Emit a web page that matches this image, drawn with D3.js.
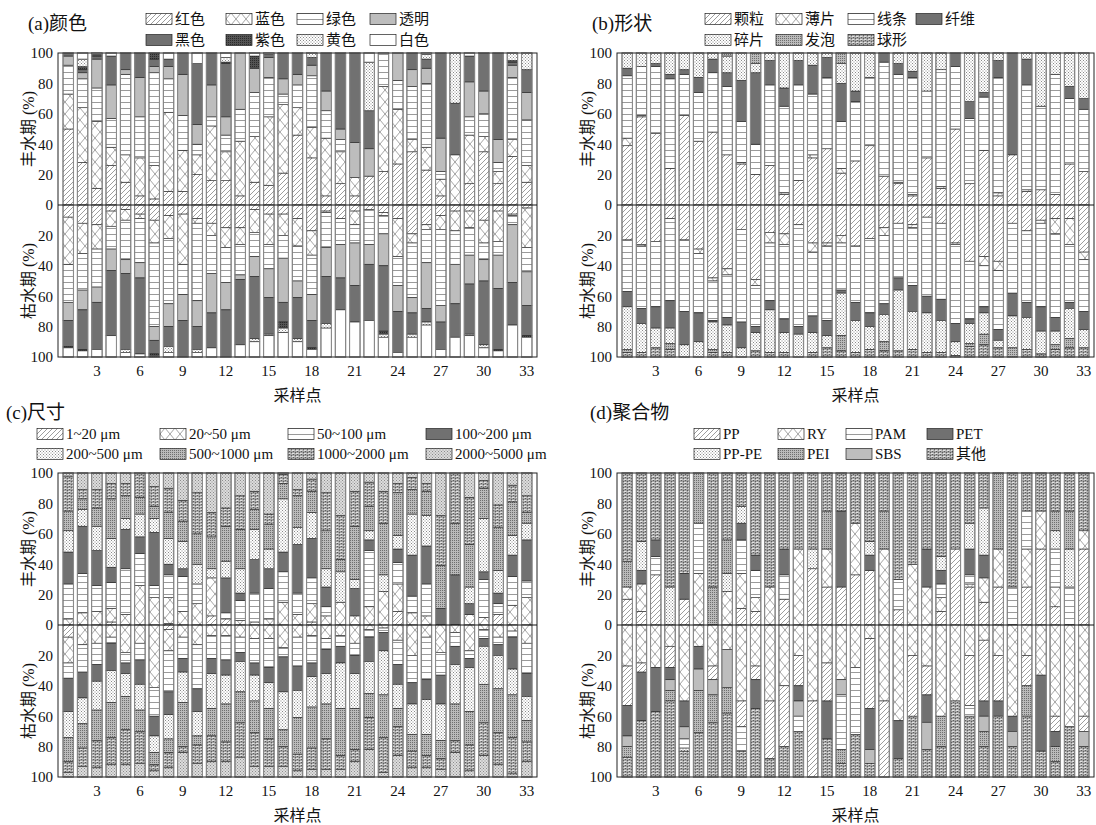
<!DOCTYPE html>
<html>
<head>
<meta charset="utf-8">
<script src="https://cdn.jsdelivr.net/npm/d3@7"></script>
<style>
body { margin: 0; background: #fff; }
text { font-family: "Liberation Serif", "Times New Roman", "Noto Sans CJK SC", serif; fill: #111; }
</style>
</head>
<body>
<script>
var sites = d3.range(1, 34);
var xTicks = [3, 6, 9, 12, 15, 18, 21, 24, 27, 30, 33];

// (a) colour: 红色 蓝色 绿色 透明 黑色 紫色 黄色 白色
var colorKeys = ["红色", "蓝色", "绿色", "透明", "黑色", "紫色", "黄色", "白色"];
var colorWet = [
  [50,23,19,6,2,0,0,0],[28,36,19,4,2,2,5,4],[11,44,22,19,2,1,0,1],[26,12,19,22,19,0,0,2],
  [15,18,53,3,11,0,0,0],[6,25,27,26,16,0,0,0],[4,22,61,4,5,4,0,0],[9,52,22,8,5,0,0,4],
  [9,27,23,27,14,0,0,0],[20,13,7,13,40,0,0,7],[16,36,6,21,21,0,0,0],[16,19,11,12,35,1,3,3],
  [6,36,21,37,0,0,0,0],[15,30,29,16,0,8,0,2],[13,45,26,13,2,0,0,1],[21,45,7,10,17,0,0,0],
  [46,18,15,7,14,0,0,0],[31,20,34,7,5,0,3,0],[6,38,18,13,25,0,0,0],[14,21,8,7,50,0,0,0],
  [6,12,0,23,59,0,0,0],[19,0,0,18,25,0,32,6],[22,56,22,0,0,0,0,0],[27,36,19,18,0,0,0,0],
  [35,8,35,11,11,0,0,0],[23,15,42,10,6,0,3,1],[6,11,5,22,56,0,0,0],[0,33,0,0,34,0,33,0],
  [14,32,12,23,17,0,0,2],[35,10,15,15,25,0,0,0],[14,8,6,15,57,0,0,0],[32,11,41,8,2,1,5,0],
  [15,11,30,18,15,0,11,0]
];
var colorDry = [
  [8,31,25,12,17,1,0,6],[12,20,24,13,26,1,0,4],[13,16,25,10,31,0,0,5],[4,10,15,14,43,0,0,14],
  [3,7,26,9,50,0,2,3],[6,3,29,10,50,0,0,2],[10,15,55,9,9,2,0,0],[7,15,43,15,13,0,4,3],
  [6,33,20,17,24,0,0,0],[9,3,51,17,15,0,2,3],[12,8,25,26,23,0,0,6],[15,13,23,18,31,0,0,0],
  [15,11,20,3,43,0,0,8],[3,15,16,13,41,0,2,10],[6,20,16,19,24,0,1,14],[6,14,15,29,13,4,3,16],
  [9,18,23,11,27,0,2,10],[17,16,26,17,18,1,0,5],[4,1,23,19,31,0,3,19],[9,0,17,22,21,0,0,31],
  [4,9,12,28,24,0,0,23],[3,0,23,13,37,0,0,24],[5,2,12,21,43,2,2,13],[9,25,19,17,27,0,0,3],
  [19,6,36,10,14,0,2,13],[13,3,22,30,9,0,2,21],[7,9,50,11,18,0,0,5],[4,13,22,26,22,0,0,13],
  [4,11,18,19,33,0,1,14],[10,15,11,14,42,0,2,6],[4,20,9,22,40,1,0,4],[6,1,6,38,28,0,0,21],
  [2,26,16,22,20,1,0,13]
];

// (b) shape: 颗粒 薄片 线条 纤维 碎片 发泡 球形
var shapeKeys = ["颗粒", "薄片", "线条", "纤维", "碎片", "发泡", "球形"];
var shapeWet = [
  [39,5,41,5,10,0,0],[58,1,32,0,9,0,0],[47,0,44,2,7,0,0],[24,0,59,3,14,0,0],
  [59,0,27,3,11,0,0],[42,0,32,10,16,0,0],[48,0,39,9,4,0,0],[33,0,45,9,11,2,0],
  [27,1,27,27,18,0,0],[20,0,20,47,6,7,0],[26,0,53,16,5,0,0],[7,1,57,12,23,0,0],
  [16,0,63,16,5,0,0],[31,2,40,19,8,0,0],[37,0,47,13,3,0,0],[21,3,31,25,13,7,0],
  [29,0,39,7,25,0,0],[39,0,45,0,16,0,0],[19,0,75,6,0,0,0],[14,1,71,7,7,0,0],
  [6,1,77,4,12,0,0],[31,0,44,0,25,0,0],[11,1,77,0,11,0,0],[50,0,41,9,0,0,0],
  [14,0,43,11,32,0,0],[36,0,35,3,26,0,0],[6,2,76,11,5,0,0],[33,0,0,67,0,0,0],
  [9,1,69,17,4,0,0],[10,0,55,0,35,0,0],[7,0,79,0,14,0,0],[27,0,43,8,22,0,0],
  [22,0,41,7,30,0,0]
];
var shapeDry = [
  [23,0,34,10,28,2,3],[26,1,41,10,19,0,3],[24,0,43,14,13,0,6],[9,0,54,18,10,4,5],
  [23,0,47,22,8,0,0],[29,3,39,19,10,0,0],[48,2,26,1,18,2,3],[42,4,28,5,18,0,3],
  [16,0,61,17,6,0,0],[49,4,27,4,12,0,4],[18,7,38,6,28,0,3],[19,7,49,9,13,0,3],
  [13,0,67,5,15,0,0],[25,6,42,11,13,0,3],[25,2,49,10,8,0,6],[20,5,31,2,28,10,4],
  [27,0,37,12,21,0,3],[22,0,49,9,15,0,5],[15,5,45,7,18,6,4],[12,0,36,8,40,0,4],
  [13,2,38,17,25,0,5],[8,0,52,11,26,0,3],[12,0,50,14,21,0,3],[25,1,52,12,9,0,1],
  [37,0,38,3,13,2,7],[34,6,27,4,14,7,8],[37,6,39,7,5,0,6],[12,0,46,15,21,6,0],
  [17,0,47,10,21,0,5],[10,2,55,16,15,0,2],[9,10,55,9,9,3,5],[9,17,38,4,20,6,6],
  [31,5,34,12,12,0,6]
];

// (c) size
var sizeKeys = ["1~20 μm", "20~50 μm", "50~100 μm", "100~200 μm",
                "200~500 μm", "500~1000 μm", "1000~2000 μm", "2000~5000 μm"];
var sizeWet = [
  [0,4,23,21,14,13,23,2],[0,8,26,31,11,7,6,11],[0,9,17,23,16,12,12,11],[2,9,17,10,19,26,10,7],
  [0,7,30,26,7,15,8,7],[0,26,21,11,15,11,16,0],[0,18,8,35,9,8,13,9],[1,17,15,7,17,17,16,10],
  [0,9,23,5,18,13,14,18],[0,14,13,0,13,20,27,13],[6,25,0,0,6,21,16,26],[4,0,4,23,11,23,12,23],
  [0,3,13,5,16,26,22,15],[0,2,19,22,20,13,12,12],[0,4,20,13,13,16,7,27],[0,15,20,13,35,10,6,1],
  [0,7,14,32,11,21,4,11],[2,12,17,26,17,14,8,4],[0,6,6,13,12,25,25,13],[0,15,0,0,20,8,29,28],
  [0,6,0,18,6,35,23,12],[0,12,37,7,6,16,16,6],[0,22,0,0,11,34,21,12],[9,18,14,9,9,28,6,7],
  [0,8,11,27,27,16,8,3],[0,6,21,25,20,16,5,7],[0,0,0,11,0,28,33,28],[0,0,0,33,0,34,33,0],
  [0,7,0,7,11,28,31,16],[0,5,25,5,35,20,5,5],[7,0,7,7,15,28,15,21],[0,13,19,14,13,22,11,8],
  [0,18,11,27,11,7,11,15]
];
var sizeDry = [
  [8,17,10,22,17,16,7,3],[0,13,18,17,17,16,12,7],[0,12,14,11,19,20,18,6],[0,8,4,18,21,23,18,8],
  [0,18,7,7,15,22,23,8],[0,12,11,16,17,14,21,9],[0,41,19,13,11,8,4,4],[3,14,27,15,16,9,10,6],
  [0,8,14,9,20,29,4,16],[0,13,29,15,16,6,12,9],[0,7,15,10,23,18,17,10],[0,7,16,10,19,25,13,10],
  [0,8,10,6,20,20,23,13],[0,9,16,8,17,21,22,7],[0,9,19,10,17,20,18,7],[0,15,6,23,25,11,13,7],
  [0,8,19,16,18,24,11,4],[0,7,18,9,20,27,14,5],[0,9,7,16,20,23,20,5],[0,7,7,11,30,31,9,5],
  [0,12,8,12,23,27,8,10],[0,3,5,16,21,16,21,18],[0,2,3,12,29,28,23,3],[0,10,16,13,16,12,19,14],
  [0,20,18,14,20,11,11,6],[0,8,28,13,23,14,8,6],[0,18,15,19,24,12,7,5],[0,5,9,12,26,24,8,16],
  [0,17,5,6,29,22,17,4],[0,3,6,5,25,25,22,14],[0,8,5,7,22,29,21,8],[0,4,4,21,17,28,24,2],
  [0,12,20,15,16,14,13,10]
];

// (d) polymer: PP RY PAM PET PP-PE PEI SBS 其他
var polyKeys = ["PP", "RY", "PAM", "PET", "PP-PE", "PEI", "SBS", "其他"];
var polyWet = [
  [17,8,0,0,0,17,0,58],[9,18,0,9,19,0,0,45],[33,0,12,11,0,0,0,44],[0,0,0,0,25,0,0,75],
  [17,0,0,17,0,0,0,66],[0,34,33,0,0,33,0,0],[0,0,0,0,0,25,0,75],[0,22,0,0,12,22,0,44],
  [11,23,22,11,11,0,0,22],[9,9,18,10,0,0,0,54],[0,25,0,0,0,0,0,75],[17,0,16,17,0,0,0,50],
  [0,50,0,0,0,0,0,50],[37,0,0,0,13,0,0,50],[25,25,0,0,0,25,0,25],[25,0,0,50,0,0,0,25],
  [33,34,0,0,0,0,0,33],[36,0,0,10,9,0,0,45],[0,50,0,0,0,25,0,25],[10,0,20,0,0,0,0,70],
  [0,40,0,0,0,0,0,60],[0,25,0,25,0,0,0,50],[9,9,9,9,9,0,0,55],[50,0,0,0,0,0,0,50],
  [25,2,6,17,17,0,0,33],[15,16,0,15,31,0,0,23],[25,25,0,0,0,50,0,0],[0,0,25,0,0,0,0,75],
  [25,25,25,0,0,0,0,25],[50,25,0,0,0,0,0,25],[12,13,25,0,12,13,0,25],[0,0,25,0,25,25,0,25],
  [50,12,0,0,0,0,0,38]
];
var polyDry = [
  [26,27,0,20,0,7,7,13],[6,25,0,32,0,0,0,37],[0,28,0,29,0,0,0,43],[14,14,0,8,0,7,7,50],
  [0,50,6,17,2,0,8,17],[0,14,0,15,0,28,14,29],[9,27,0,0,0,18,10,36],[0,16,0,0,0,17,25,42],
  [17,50,16,0,0,0,0,17],[9,27,0,19,0,0,0,45],[38,50,0,0,0,0,0,12],[40,40,0,0,0,0,0,20],
  [20,20,10,10,0,0,10,30],[50,50,0,0,0,0,0,0],[25,25,0,25,0,0,0,25],[0,36,36,0,0,9,10,9],
  [0,28,44,0,0,0,0,28],[46,9,0,27,0,0,9,9],[50,50,0,0,0,0,0,0],[0,63,0,25,0,0,0,12],
  [40,20,0,0,0,0,0,40],[19,27,0,18,0,0,18,18],[0,60,0,0,0,20,0,20],[0,50,0,0,0,0,0,50],
  [33,20,7,0,0,0,0,40],[40,10,0,10,0,10,10,20],[30,20,0,10,0,0,0,40],[0,60,0,10,0,0,10,20],
  [20,20,0,0,0,20,0,40],[0,33,0,50,0,0,0,17],[10,60,0,10,0,10,0,10],[0,67,0,0,0,0,0,33],
  [10,60,0,0,0,0,10,20]
];
// stacking order seen in the dry half of (d)
var polyDryOrder = [1, 0, 3, 6, 2, 4, 5, 7];

var w = 1096, h = 825;
var svg = d3.select("body").append("svg").attr("width", w).attr("height", h);
var defs = svg.append("defs");

function pattern(id, pw, ph, bg) {
  var p = defs.append("pattern").attr("id", id)
    .attr("patternUnits", "userSpaceOnUse")
    .attr("width", pw).attr("height", ph);
  p.append("rect").attr("width", pw).attr("height", ph).attr("fill", bg);
  return p;
}
function dots(p, pts, size, col) {
  pts.forEach(function(q) {
    p.append("rect").attr("x", q[0]).attr("y", q[1]).attr("width", size).attr("height", size).attr("fill", col);
  });
}

pattern("hatch", 5, 5, "#fff").append("path")
  .attr("d", "M0,5L5,0M-1.25,1.25L1.25,-1.25M3.75,6.25L6.25,3.75")
  .attr("stroke", "#5a5a5a").attr("stroke-width", 0.6);
pattern("cross", 10, 12, "#fff").append("path")
  .attr("d", "M0,0L10,12M10,0L0,12")
  .attr("stroke", "#666").attr("stroke-width", 0.6);
pattern("lines", 8, 6, "#fff").append("path")
  .attr("d", "M0,0.5H8").attr("stroke", "#808080").attr("stroke-width", 0.8);
pattern("dark", 4, 4, "#717171");
var pu = pattern("purple", 2, 2, "#545454"); dots(pu, [[0, 0]], 1, "#2c2c2c");
var dt = pattern("dots", 3, 3, "#fff"); dots(dt, [[0, 0], [1.5, 1.5]], 1, "#8a8a8a");
var md = pattern("meddots", 2, 2, "#bababa"); dots(md, [[0, 0]], 1, "#6e6e6e");
var de = pattern("dense", 4, 3, "#a2a2a2");
de.append("rect").attr("x", 0).attr("y", 2).attr("width", 2.5).attr("height", 1).attr("fill", "#e2e2e2");
dots(de, [[1, 0], [3, 1]], 1, "#5e5e5e");
var fd = pattern("finedots", 3, 3, "#dcdcdc"); dots(fd, [[0, 0], [1.5, 1.5]], 1, "#8c8c8c");
pattern("lightgray", 4, 4, "#bdbdbd");
pattern("white", 4, 4, "#ffffff");

var panels = [
  { title: "(a)颜色", tx: 28, ty: 23, keys: colorKeys, wet: colorWet, dry: colorDry,
    pats: ["hatch", "cross", "lines", "lightgray", "dark", "purple", "dots", "white"],
    x0: 58, x1: 537, y0: 53, legX: [146, 226, 297, 370], legY: [19, 40] },
  { title: "(b)形状", tx: 592, ty: 23, keys: shapeKeys, wet: shapeWet, dry: shapeDry,
    pats: ["hatch", "cross", "lines", "dark", "dots", "meddots", "dense"],
    x0: 617, x1: 1094, y0: 53, legX: [705, 776, 848, 916], legY: [19, 40] },
  { title: "(c)尺寸", tx: 6, ty: 412, keys: sizeKeys, wet: sizeWet, dry: sizeDry,
    pats: ["hatch", "cross", "lines", "dark", "dots", "meddots", "dense", "finedots"],
    x0: 58, x1: 537, y0: 473, legX: [37, 160, 288, 426], legY: [434, 454] },
  { title: "(d)聚合物", tx: 590, ty: 412, keys: polyKeys, wet: polyWet, dry: polyDry, dryOrder: polyDryOrder,
    pats: ["hatch", "cross", "lines", "dark", "dots", "meddots", "lightgray", "dense"],
    x0: 617, x1: 1094, y0: 473, legX: [694, 778, 846, 927], legY: [434, 454] }
];

var half = 152;

function drawPanel(p) {
  var g = svg.append("g");
  var yMid = p.y0 + half, yBot = p.y0 + 2 * half;
  var x = d3.scaleBand().domain(sites).range([p.x0, p.x1]).paddingInner(0.27).paddingOuter(0.35);
  var yWet = d3.scaleLinear().domain([0, 1]).range([yMid, p.y0]);
  var yDry = d3.scaleLinear().domain([0, 1]).range([yMid, yBot]);
  var idx = d3.range(p.keys.length);

  var wetStack = d3.stack().keys(idx).value(function(d, k) { return d[k]; })
    .offset(d3.stackOffsetExpand)(p.wet);
  var dryStack = d3.stack().keys(p.dryOrder || idx).value(function(d, k) { return d[k]; })
    .offset(d3.stackOffsetExpand)(p.dry);

  g.selectAll(".wet").data(wetStack).enter().append("g")
    .attr("fill", function(s) { return "url(#" + p.pats[s.key] + ")"; })
    .selectAll("rect").data(function(s) { return s; }).enter().append("rect")
    .attr("x", function(d, i) { return x(sites[i]); })
    .attr("width", x.bandwidth())
    .attr("y", function(d) { return yWet(d[1]); })
    .attr("height", function(d) { return yWet(d[0]) - yWet(d[1]); })
    .attr("stroke", "#222").attr("stroke-width", 0.6);

  g.selectAll(".dry").data(dryStack).enter().append("g")
    .attr("fill", function(s) { return "url(#" + p.pats[s.key] + ")"; })
    .selectAll("rect").data(function(s) { return s; }).enter().append("rect")
    .attr("x", function(d, i) { return x(sites[i]); })
    .attr("width", x.bandwidth())
    .attr("y", function(d) { return yDry(d[0]); })
    .attr("height", function(d) { return yDry(d[1]) - yDry(d[0]); })
    .attr("stroke", "#222").attr("stroke-width", 0.6);

  // grey bar outlines
  g.selectAll(".outline").data(sites).enter().append("rect")
    .attr("x", function(d) { return x(d); })
    .attr("width", x.bandwidth())
    .attr("y", p.y0).attr("height", 2 * half)
    .attr("fill", "none").attr("stroke", "#8c8c8c").attr("stroke-width", 1.1);

  g.append("rect").attr("x", p.x0).attr("y", p.y0)
    .attr("width", p.x1 - p.x0).attr("height", 2 * half)
    .attr("fill", "none").attr("stroke", "#222").attr("stroke-width", 1);
  g.append("line").attr("x1", p.x0).attr("x2", p.x1).attr("y1", yMid).attr("y2", yMid)
    .attr("stroke", "#111").attr("stroke-width", 1.1);

  var fmt = function(d) { return Math.round(d * 100); };
  var ya = g.append("g").attr("transform", "translate(" + p.x0 + ",0)")
    .call(d3.axisLeft(yWet).tickValues([0, 0.2, 0.4, 0.6, 0.8, 1]).tickFormat(fmt).tickSize(0).tickPadding(5));
  var yb = g.append("g").attr("transform", "translate(" + p.x0 + ",0)")
    .call(d3.axisLeft(yDry).tickValues([0.2, 0.4, 0.6, 0.8, 1]).tickFormat(fmt).tickSize(0).tickPadding(5));
  var xa = g.append("g").attr("transform", "translate(0," + yBot + ")")
    .call(d3.axisBottom(x).tickValues(xTicks).tickSize(0).tickPadding(8));
  [ya, yb, xa].forEach(function(a) {
    a.select(".domain").remove();
    a.selectAll("text").attr("font-size", 15).attr("font-family", "Liberation Serif").attr("fill", "#111");
  });

  g.append("text").attr("transform", "translate(" + (p.x0 - 30) + "," + (yMid - half / 2) + ") rotate(-90)")
    .attr("text-anchor", "middle").attr("dominant-baseline", "central").attr("font-size", 16)
    .text("丰水期 (%)");
  g.append("text").attr("transform", "translate(" + (p.x0 - 30) + "," + (yMid + half / 2) + ") rotate(-90)")
    .attr("text-anchor", "middle").attr("dominant-baseline", "central").attr("font-size", 16)
    .text("枯水期 (%)");
  g.append("text").attr("x", (p.x0 + p.x1) / 2).attr("y", yBot + 38)
    .attr("text-anchor", "middle").attr("dominant-baseline", "central").attr("font-size", 16)
    .text("采样点");

  g.append("text").attr("x", p.tx).attr("y", p.ty)
    .attr("dominant-baseline", "central").attr("font-size", 19).text(p.title);

  var leg = g.selectAll(".leg").data(p.keys).enter().append("g")
    .attr("transform", function(d, i) {
      return "translate(" + p.legX[i % 4] + "," + p.legY[Math.floor(i / 4)] + ")";
    });
  leg.append("rect").attr("x", 0).attr("y", -5.5).attr("width", 26).attr("height", 11)
    .attr("fill", function(d, i) { return "url(#" + p.pats[i] + ")"; })
    .attr("stroke", "#222").attr("stroke-width", 0.7);
  leg.append("text").attr("x", 29).attr("y", 0).attr("dominant-baseline", "central")
    .attr("font-size", 15).text(function(d) { return d; });
}

panels.forEach(drawPanel);
</script>
</body>
</html>
